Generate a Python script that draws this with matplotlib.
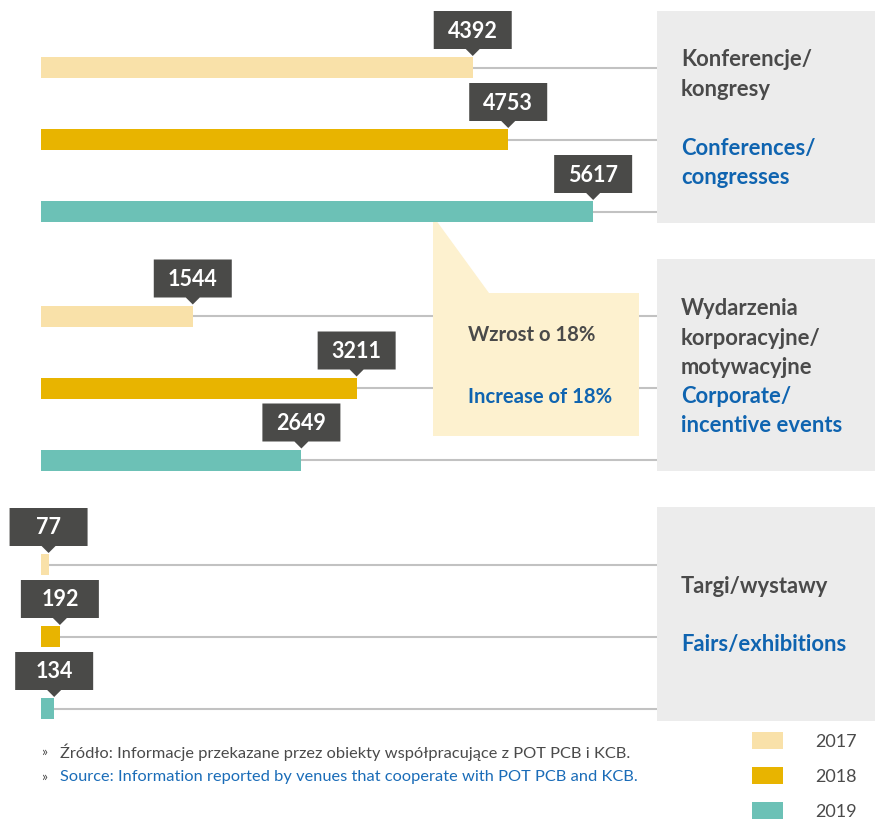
import matplotlib
matplotlib.use("Agg")
import matplotlib.pyplot as plt
import matplotlib.transforms as mtransforms
from matplotlib.patches import Rectangle, Polygon

years = ["2017", "2018", "2019"]
values_2017 = [4392, 1544, 77]
values_2018 = [4753, 3211, 192]
values_2019 = [5617, 2649, 134]
series = [values_2017, values_2018, values_2019]
colors = ["#f9e1a9", "#e8b400", "#6cc1b6"]

panel_lines = [
    [("Konferencje/", 0), ("kongresy", 0), ("Conferences/", 1), ("congresses", 1)],
    [("Wydarzenia", 0), ("korporacyjne/", 0), ("motywacyjne", 0),
     ("Corporate/", 1), ("incentive events", 1)],
    [("Targi/wystawy", 0), ("Fairs/exhibitions", 1)],
]
panel_line_y = [[48, 78, 136, 166], [49, 79, 108, 137, 166], [79, 137]]
callout_pl = "Wzrost o 18%"
callout_en = "Increase of 18%"
source_pl = "Źródło: Informacje przekazane przez obiekty współpracujące z POT PCB i KCB."
source_en = "Source: Information reported by venues that cooperate with POT PCB and KCB."

GREY = "#4a4a4a"
BLUE = "#0f64b0"
FONT = ["Lato", "DejaVu Sans"]

W, H = 875, 820
fig = plt.figure(figsize=(W / 100, H / 100), dpi=100)

# background layer in pixel coordinates
bg = fig.add_axes([0, 0, 1, 1], zorder=0)
bg.set_xlim(0, W)
bg.set_ylim(H, 0)
bg.axis("off")

# bar layer: x in data units, y in pixels
px_per_unit = 0.0983
x0 = 41
ax = fig.add_axes([0, 0, 1, 1], zorder=1)
ax.set_xlim(-x0 / px_per_unit, (W - x0) / px_per_unit)
ax.set_ylim(H, 0)
ax.axis("off")
ax.patch.set_alpha(0)

panel_left = 657
panel_tops = [12, 260, 508]
panel_h = [212, 212, 214]
group_pitch = 248.5
bar_pitch = 72
first_center = 68.5
bar_h = 21

for g in range(3):
    bg.add_patch(Rectangle((panel_left, panel_tops[g]), W - panel_left, panel_h[g],
                           facecolor="#ececec", edgecolor="none", zorder=0))
    for (txt, lang), yy in zip(panel_lines[g], panel_line_y[g]):
        bg.text(681, panel_tops[g] + yy, txt, color=GREY if lang == 0 else BLUE,
                fontsize=15.8, fontweight="bold", family=FONT, va="center", ha="left")

for s, vals in enumerate(series):
    ys = [first_center + g * group_pitch + s * bar_pitch for g in range(3)]
    # grey guide lines
    for v, y in zip(vals, ys):
        xe = x0 + v * px_per_unit
        bg.plot([xe, panel_left], [y, y], color="#c2c2c2", lw=1.5, zorder=1,
                solid_capstyle="butt")
    ax.barh(ys, vals, height=bar_h, color=colors[s], zorder=3, label=years[s])
    # value tags
    for v, y in zip(vals, ys):
        tr = mtransforms.Affine2D() + mtransforms.ScaledTranslation(v, y, ax.transData)
        tag = Polygon([(-39, 18.5), (-7, 18.5), (0, 11.5), (7, 18.5), (39, 18.5),
                       (39, 56.5), (-39, 56.5)], closed=True,
                      facecolor="#4a4a48", edgecolor="none", transform=tr, zorder=4)
        ax.add_patch(tag)
        ax.text(0, 37.5, str(v), transform=tr, color="white", fontsize=15.5,
                fontweight="bold", family=FONT, ha="center", va="center", zorder=5)

# callout
bg.add_patch(Polygon([(433, 217), (489, 294), (639, 294), (639, 437), (433, 437)],
                     closed=True, facecolor="#fdf1cf", edgecolor="none", zorder=2))
bg.text(468, 335, callout_pl, color=GREY, fontsize=14.6, fontweight="bold",
        family=FONT, va="center", zorder=3)
bg.text(468, 397, callout_en, color=BLUE, fontsize=14.6, fontweight="bold",
        family=FONT, va="center", zorder=3)

# source notes
for yy, txt, c in [(752, source_pl, GREY), (777, source_en, "#1a6cb8")]:
    bg.text(41, yy, "»", color=GREY, fontsize=10, family=FONT, va="center")
    bg.text(60, yy, txt, color=c, fontsize=11.8, family=FONT, va="center")

# legend
for i, yr in enumerate(years):
    top = 733 + i * 35
    bg.add_patch(Rectangle((752, top), 31, 17, facecolor=colors[i], edgecolor="none"))
    bg.text(815, top + 9, yr, color=GREY, fontsize=13, family=FONT, va="center")

fig.savefig("out.png", dpi=100)
